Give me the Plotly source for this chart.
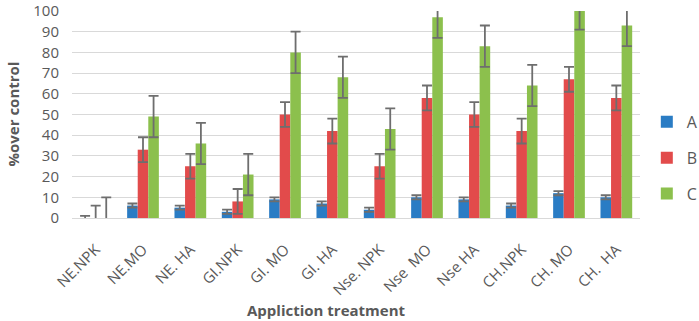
import plotly.graph_objects as go

categories = ["NE.NPK", "NE.MO", "NE. HA", "GI.NPK", "GI. MO", "GI. HA",
              "Nse. NPK", "Nse  MO", "Nse HA", "CH.NPK", "CH. MO", "CH.  HA"]
series_a = [0, 6, 5, 3, 9, 7, 4, 10, 9, 6, 12, 10]
series_b = [0, 33, 25, 8, 50, 42, 25, 58, 50, 42, 67, 58]
series_c = [0, 49, 36, 21, 80, 68, 43, 97, 83, 64, 101, 93]
err_a = [1] * 12
err_b = [6] * 12
err_c = [10] * 12
y_ticks = [0, 10, 20, 30, 40, 50, 60, 70, 80, 90, 100]

colors = {"A": "#2a7cc4", "B": "#e24b4b", "C": "#8cc04d"}
font_fam = "Open Sans, Liberation Sans, sans-serif"
gray = "#595959"

fig = go.Figure()
for name, vals, errs in [("A", series_a, err_a), ("B", series_b, err_b), ("C", series_c, err_c)]:
    fig.add_trace(go.Bar(
        x=categories, y=vals, name=name, legendgroup=name,
        marker=dict(color=colors[name], line=dict(width=0)),
        error_y=dict(type="data", array=errs, visible=True,
                     color="#6e6e6e", thickness=1.8, width=5),
    ))

fig.update_layout(
    width=699, height=321,
    margin=dict(l=72, r=59, t=11, b=103, autoexpand=False),
    paper_bgcolor="white", plot_bgcolor="white",
    barmode="group", bargap=0.33, bargroupgap=0,
    font=dict(family=font_fam, color=gray),
    legend=dict(x=1.012, y=0.29, xanchor="left", yanchor="middle",
                font=dict(size=16, color=gray),
                tracegroupgap=12, itemwidth=30),
    showlegend=True,
    annotations=[
        dict(text="<b>%over control</b>", textangle=-90, xref="paper", yref="paper",
             x=(12 - 72) / 568, y=0.5, xanchor="center", yanchor="middle",
             showarrow=False, font=dict(size=15, color=gray)),
        dict(text="<b>Appliction treatment</b>", xref="paper", yref="paper",
             x=(326 - 72) / 568, y=-(310 - 218) / 207, xanchor="center", yanchor="middle",
             showarrow=False, font=dict(size=15, color=gray)),
    ],
)
fig.update_yaxes(range=[0, 100], tickvals=y_ticks, showgrid=True,
                 gridcolor="#d9d9d9", gridwidth=1, zeroline=True,
                 zerolinecolor="#d9d9d9", zerolinewidth=1,
                 tickfont=dict(size=15, color=gray), ticklabeloverflow="allow",
                 ticklabelstandoff=12, automargin=False,
                 ticks="", showline=False)
fig.update_xaxes(tickangle=-45, tickfont=dict(size=15, color=gray),
                 automargin=False, ticklabelstandoff=16,
                 showline=True, linecolor="#d9d9d9", ticks="")

fig.write_html("out.html", config={"displayModeBar": False},
               post_script="document.body.style.margin='0px';")
